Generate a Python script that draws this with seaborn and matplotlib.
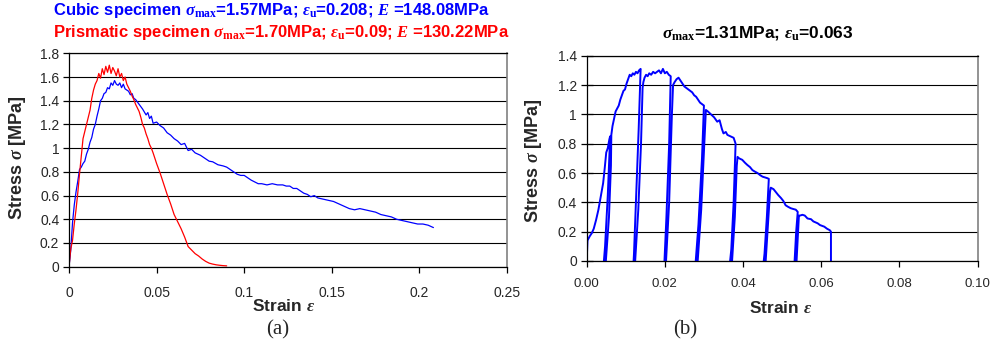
import matplotlib
matplotlib.use("Agg")
import matplotlib.pyplot as plt
import seaborn as sns
import numpy as np
from matplotlib.ticker import FixedLocator, FuncFormatter

# ---------------- data ----------------
# (a) cubic specimen (blue)
cubic_strain = [0, 0.001, 0.002, 0.003, 0.004, 0.005, 0.006, 0.007, 0.008, 0.009,
                0.010, 0.011, 0.012, 0.013, 0.014, 0.015, 0.016, 0.017, 0.018, 0.019,
                0.020, 0.021, 0.022, 0.023, 0.024, 0.025, 0.026, 0.027, 0.028, 0.029,
                0.030, 0.031, 0.032, 0.033, 0.034, 0.035, 0.036, 0.037, 0.038, 0.040,
                0.042, 0.044, 0.045, 0.046, 0.047, 0.048, 0.050, 0.052, 0.054, 0.056,
                0.058, 0.060, 0.062, 0.064, 0.066, 0.068, 0.070, 0.072, 0.075, 0.078,
                0.080, 0.082, 0.085, 0.088, 0.090, 0.092, 0.094, 0.096, 0.098, 0.100,
                0.102, 0.104, 0.106, 0.108, 0.110, 0.113, 0.116, 0.119, 0.122, 0.124,
                0.126, 0.128, 0.130, 0.132, 0.134, 0.136, 0.138, 0.140, 0.142, 0.145,
                0.148, 0.151, 0.154, 0.157, 0.160, 0.163, 0.166, 0.169, 0.172, 0.175,
                0.178, 0.181, 0.184, 0.187, 0.190, 0.193, 0.196, 0.199, 0.202, 0.205,
                0.208]
cubic_stress = [0, 0.14, 0.37, 0.52, 0.63, 0.72, 0.82, 0.84, 0.87, 0.89,
                0.95, 0.99, 1.05, 1.09, 1.16, 1.20, 1.27, 1.33, 1.40, 1.42,
                1.46, 1.47, 1.51, 1.50, 1.55, 1.53, 1.57, 1.54, 1.53, 1.55,
                1.51, 1.54, 1.50, 1.49, 1.48, 1.45, 1.46, 1.42, 1.41, 1.37,
                1.33, 1.28, 1.30, 1.25, 1.27, 1.21, 1.22, 1.19, 1.17, 1.13,
                1.11, 1.08, 1.06, 1.03, 1.04, 0.98, 0.99, 0.96, 0.94, 0.91,
                0.89, 0.885, 0.86, 0.85, 0.84, 0.82, 0.80, 0.78, 0.77, 0.77,
                0.75, 0.73, 0.715, 0.70, 0.70, 0.69, 0.70, 0.69, 0.69, 0.68,
                0.68, 0.66, 0.66, 0.64, 0.62, 0.61, 0.59, 0.60, 0.58, 0.57,
                0.56, 0.55, 0.53, 0.51, 0.49, 0.48, 0.49, 0.48, 0.47, 0.46,
                0.44, 0.43, 0.42, 0.40, 0.39, 0.38, 0.37, 0.36, 0.36, 0.35,
                0.33]

# (a) prismatic specimen (red)
prism_strain = [0, 0.001, 0.002, 0.003, 0.004, 0.005, 0.006, 0.007, 0.008, 0.009,
                0.010, 0.011, 0.012, 0.013, 0.014, 0.015, 0.016, 0.017, 0.018, 0.019,
                0.020, 0.021, 0.022, 0.023, 0.024, 0.025, 0.026, 0.027, 0.028, 0.029,
                0.030, 0.031, 0.032, 0.033, 0.034, 0.035, 0.036, 0.037, 0.038, 0.039,
                0.040, 0.041, 0.042, 0.043, 0.044, 0.045, 0.046, 0.047, 0.048, 0.050,
                0.052, 0.054, 0.056, 0.058, 0.060, 0.062, 0.064, 0.066, 0.068, 0.070,
                0.072, 0.074, 0.076, 0.078, 0.080, 0.082, 0.084, 0.086, 0.088, 0.090]
prism_stress = [0, 0.15, 0.22, 0.36, 0.48, 0.62, 0.78, 0.93, 1.08, 1.14,
                1.20, 1.26, 1.32, 1.42, 1.49, 1.54, 1.57, 1.63, 1.59, 1.67,
                1.62, 1.69, 1.64, 1.70, 1.63, 1.68, 1.65, 1.61, 1.67, 1.60,
                1.63, 1.57, 1.60, 1.54, 1.51, 1.48, 1.44, 1.41, 1.37, 1.34,
                1.31, 1.26, 1.20, 1.17, 1.12, 1.08, 1.03, 1.00, 0.96, 0.87,
                0.79, 0.70, 0.61, 0.53, 0.44, 0.38, 0.32, 0.25, 0.17, 0.14,
                0.11, 0.09, 0.065, 0.045, 0.03, 0.022, 0.016, 0.012, 0.009, 0.007]

# (b) cyclic loading (envelope with unloading / reloading loops)
cyc_strain = [0, 0.0002, 0.0008, 0.0013, 0.0018, 0.0024, 0.0030, 0.0036, 0.0042, 0.0046,
              0.0050, 0.0054, 0.0058, 0.0060,
              0.0054, 0.0047, 0.0044, 0.0049, 0.0057, 0.0062, 0.0063,
              0.0066, 0.0070, 0.0074, 0.0078, 0.0082, 0.0086, 0.0090, 0.0094, 0.0098, 0.0102,
              0.0106, 0.0110, 0.0114, 0.0118, 0.0122, 0.0126, 0.0130, 0.0134, 0.0138,
              0.0133, 0.0126, 0.0121, 0.0120, 0.0124, 0.0132, 0.0139, 0.0143, 0.0145,
              0.0148, 0.0152, 0.0156, 0.0160, 0.0165, 0.0170, 0.0175, 0.0180, 0.0185, 0.0190,
              0.0195, 0.0200, 0.0205, 0.0210, 0.0215,
              0.0211, 0.0204, 0.0199, 0.0203, 0.0211, 0.0218, 0.0221,
              0.0225, 0.0230, 0.0235, 0.0240, 0.0245, 0.0250, 0.0255, 0.0260, 0.0265, 0.0270,
              0.0275, 0.0280, 0.0285, 0.0290, 0.0295, 0.0300,
              0.0295, 0.0286, 0.0279, 0.0284, 0.0293, 0.0301, 0.0305,
              0.0310, 0.0318, 0.0326, 0.0334, 0.0340, 0.0346, 0.0350, 0.0356, 0.0360, 0.0368,
              0.0376, 0.0381,
              0.0376, 0.0370, 0.0367, 0.0372, 0.0379, 0.0384, 0.0386,
              0.0390, 0.0398, 0.0405, 0.0411, 0.0418, 0.0424, 0.0430, 0.0437, 0.0444, 0.0450,
              0.0456, 0.0462, 0.0466,
              0.0461, 0.0455, 0.0453, 0.0458, 0.0465, 0.0469, 0.0471,
              0.0478, 0.0484, 0.0490, 0.0497, 0.0503, 0.0509, 0.0515, 0.0522, 0.0528, 0.0535,
              0.0540,
              0.0536, 0.0533, 0.0532, 0.0537, 0.0541, 0.0543,
              0.0546, 0.0552, 0.0558, 0.0565, 0.0574, 0.0580, 0.0591, 0.0597, 0.0608, 0.0615,
              0.0622, 0.0625, 0.0625]
cyc_stress = [0, 0.14, 0.17, 0.19, 0.22, 0.28, 0.35, 0.44, 0.53, 0.63,
              0.74, 0.77, 0.83, 0.85,
              0.45, 0.10, 0.0, 0.0, 0.30, 0.65, 0.86,
              0.92, 0.97, 1.02, 1.04, 1.06, 1.10, 1.13, 1.16, 1.17, 1.21,
              1.24, 1.27, 1.26, 1.28, 1.27, 1.29, 1.28, 1.30, 1.31,
              0.90, 0.40, 0.05, 0.0, 0.0, 0.35, 0.80, 1.18, 1.22,
              1.25, 1.27, 1.26, 1.28, 1.27, 1.29, 1.28, 1.29, 1.30, 1.28,
              1.31, 1.28, 1.29, 1.27, 1.26,
              0.80, 0.30, 0.0, 0.0, 0.40, 1.00, 1.20,
              1.22, 1.24, 1.25, 1.23, 1.21, 1.19, 1.18, 1.17, 1.16, 1.15,
              1.13, 1.12, 1.10, 1.08, 1.07, 1.06,
              0.70, 0.25, 0.0, 0.0, 0.35, 0.80, 1.03,
              1.02, 1.00, 0.98, 0.95, 0.96, 0.90, 0.87, 0.88, 0.86, 0.85,
              0.84, 0.80,
              0.40, 0.08, 0.0, 0.0, 0.30, 0.65, 0.71,
              0.70, 0.69, 0.67, 0.655, 0.64, 0.62, 0.61, 0.60, 0.585, 0.575,
              0.57, 0.565, 0.56,
              0.30, 0.05, 0.0, 0.0, 0.30, 0.47, 0.50,
              0.49, 0.47, 0.45, 0.43, 0.41, 0.38, 0.37, 0.36, 0.355, 0.35,
              0.335,
              0.20, 0.05, 0.0, 0.0, 0.20, 0.31,
              0.31, 0.315, 0.31, 0.29, 0.285, 0.27, 0.257, 0.245, 0.234, 0.22,
              0.21, 0.20, 0.0]

left_xticks = [0, 0.05, 0.1, 0.15, 0.2, 0.25]
left_yticks = [0, 0.2, 0.4, 0.6, 0.8, 1, 1.2, 1.4, 1.6, 1.8]
right_xticks = [0.00, 0.02, 0.04, 0.06, 0.08, 0.10]
right_yticks = [0, 0.2, 0.4, 0.6, 0.8, 1, 1.2, 1.4]

title_cubic = r"Cubic specimen $\sigma_{\mathrm{max}}$=1.57MPa; $\varepsilon_{\mathrm{u}}$=0.208; $E$ =148.08MPa"
title_prism = r"Prismatic specimen $\sigma_{\mathrm{max}}$=1.70MPa; $\varepsilon_{\mathrm{u}}$=0.09; $E$ =130.22MPa"
title_cyc = r"$\sigma_{\mathrm{max}}$=1.31MPa; $\varepsilon_{\mathrm{u}}$=0.063"

# ---------------- style ----------------
sns.set_theme(style="white")
plt.rcParams['font.family'] = ['Liberation Sans', 'DejaVu Sans']
plt.rcParams['mathtext.fontset'] = 'custom'
plt.rcParams['mathtext.rm'] = 'Liberation Serif:bold'
plt.rcParams['mathtext.it'] = 'Liberation Serif:italic:bold'
plt.rcParams['mathtext.bf'] = 'Liberation Serif:bold'

W, H = 993, 347
fig = plt.figure(figsize=(W / 100, H / 100), dpi=100)

def px_axes(x0, y0, x1, y1):
    return fig.add_axes([x0 / W, 1 - y1 / H, (x1 - x0) / W, (y1 - y0) / H])

axA = px_axes(69, 53.3, 507, 266.7)
axB = px_axes(586.7, 55.7, 977.5, 261)

sns.lineplot(x=cubic_strain, y=cubic_stress, ax=axA, color='#0000FF', lw=0.9,
             sort=False, estimator=None)
sns.lineplot(x=prism_strain, y=prism_stress, ax=axA, color='#FF0000', lw=0.9,
             sort=False, estimator=None)
sns.lineplot(x=cyc_strain, y=cyc_stress, ax=axB, color='#0000FF', lw=1.4,
             sort=False, estimator=None)

def gfmt(v, pos):
    s = f"{v:.2f}".rstrip('0').rstrip('.')
    return s

for ax, xt, yt, ylim, xfmt in [(axA, left_xticks, left_yticks, 1.8, gfmt),
                               (axB, right_xticks, right_yticks, 1.4, lambda v, p: f"{v:.2f}")]:
    ax.set_xlim(xt[0], xt[-1])
    ax.set_ylim(0, ylim)
    ax.xaxis.set_major_locator(FixedLocator(xt))
    ax.yaxis.set_major_locator(FixedLocator(yt))
    ax.xaxis.set_major_formatter(FuncFormatter(xfmt))
    ax.yaxis.set_major_formatter(FuncFormatter(gfmt))
    ax.grid(axis='y', color='black', lw=0.8)
    ax.grid(axis='x', visible=False)
    ax.set_axisbelow(True)
    for side in ['left', 'bottom', 'top']:
        ax.spines[side].set_color('black')
        ax.spines[side].set_linewidth(0.9)
        ax.spines[side].set_visible(True)
    ax.spines['right'].set_color('#808080')
    ax.spines['right'].set_linewidth(1.2)
    ax.spines['right'].set_visible(True)
    ax.set_xlabel('')
    ax.set_ylabel('')

axA.tick_params(axis='x', direction='out', length=4, width=0.9, color='black',
                pad=10, labelsize=10, bottom=True)
axA.tick_params(axis='y', direction='out', length=4, width=0.9, color='black',
                pad=3, labelsize=10, left=True)
axB.tick_params(axis='x', direction='out', length=4, width=0.9, color='black',
                pad=8, labelsize=9.5, bottom=True)
axB.tick_params(axis='y', direction='inout', length=8, width=0.9, color='black',
                pad=3, labelsize=10, left=True)

def ftext(x, y, s, **kw):
    fig.text(x / W, 1 - y / H, s, **kw)

ftext(53, 11, title_cubic, color='#0000FF', fontsize=12, fontweight='bold',
      ha='left', va='center')
ftext(53, 33, title_prism, color='#FF0000', fontsize=12, fontweight='bold',
      ha='left', va='center')
ftext(758, 33, title_cyc, color='black', fontsize=12.5, fontweight='bold',
      ha='center', va='center')

ftext(18, 158, r"Stress $\sigma$ [MPa]", fontsize=13, fontweight='bold',
      rotation=90, ha='center', va='center')
ftext(534, 161, r"Stress $\sigma$ [MPa]", fontsize=13, fontweight='bold',
      rotation=90, ha='center', va='center')
ftext(284, 306, r"Strain $\varepsilon$", fontsize=12.5, fontweight='bold',
      ha='center', va='center')
ftext(781, 308, r"Strain $\varepsilon$", fontsize=12.5, fontweight='bold',
      ha='center', va='center')
ftext(278, 330, "(a)", fontsize=15, family='Liberation Serif', ha='center', va='center')
ftext(685, 330, "(b)", fontsize=15, family='Liberation Serif', ha='center', va='center')

fig.savefig("out.png", dpi=100)
